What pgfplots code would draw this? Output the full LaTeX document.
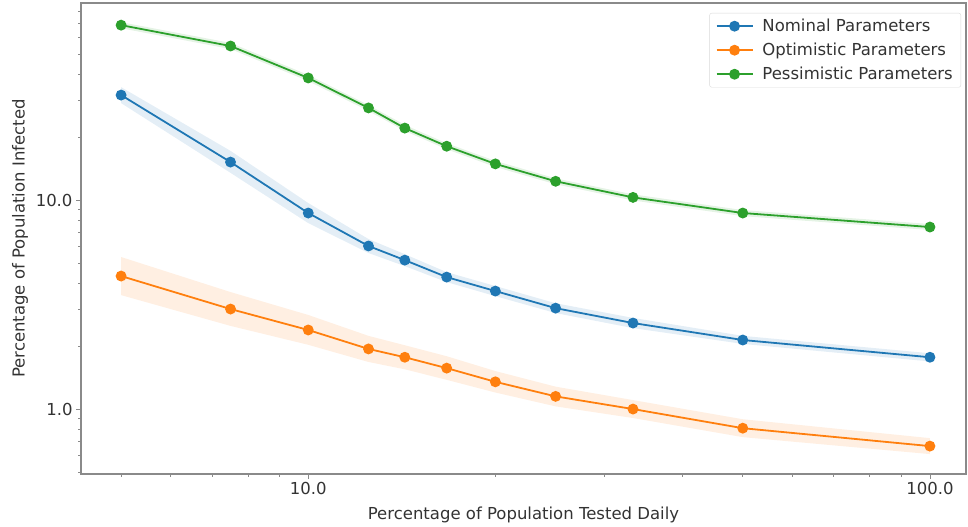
\documentclass[border=0pt]{standalone}
\usepackage{pgfplots}
\pgfplotsset{compat=1.18}
\usepgfplotslibrary{fillbetween}
\usepackage{fontspec}
\setmainfont{DejaVu Sans}

\definecolor{cblue}{HTML}{1F77B4}
\definecolor{corange}{HTML}{FF7F0E}
\definecolor{cgreen}{HTML}{2CA02C}
\definecolor{spine}{HTML}{8A8A8A}
\definecolor{txt}{HTML}{333333}

\begin{document}
\begin{tikzpicture}
\newcommand{\fs}{\fontsize{16.5bp}{19.8bp}\selectfont}
\begin{axis}[
  scale only axis,
  width=885bp, height=471bp,
  xmode=log, ymode=log,
  xmin=4.31, xmax=114.3,
  ymin=0.489, ymax=87.7,
  xtick={10,100}, xticklabels={10.0,100.0},
  ytick={1,10}, yticklabels={1.0,10.0},
  minor xtick={5,6,7,8,9,20,30,40,50,60,70,80,90},
  minor ytick={0.5,0.6,0.7,0.8,0.9,2,3,4,5,6,7,8,9,20,30,40,50,60,70,80},
  xtick pos=bottom, ytick pos=left,
  tick align=outside,
  major tick length=5bp, minor tick length=3bp,
  every tick/.style={spine, line width=0.8bp},
  axis line style={spine, line width=1.2bp},
  tick label style={font=\fs, text=txt},
  label style={font=\fs, text=txt},
  xlabel={Percentage of Population Tested Daily},
  ylabel={Percentage of Population Infected},
  xlabel style={at={(axis description cs:0.5,-0.087)}, anchor=center},
  ylabel style={at={(axis description cs:-0.0689,0.5)}, anchor=center},
  legend style={at={(axis cs:114.3,87.7)}, anchor=north east,
    xshift=-5bp, yshift=-10bp,
    draw=black!15, rounded corners=2bp, fill=white,
    font=\fs, text=txt, row sep=6bp, inner xsep=6bp, inner ysep=4bp,
    /tikz/every odd column/.style={column sep=7bp},
    cells={anchor=west}},
  legend cell align=left,
  legend image code/.code={%
    \draw[#1, mark repeat=2, mark phase=2]
      plot coordinates {(0bp,0bp) (18bp,0bp) (36bp,0bp)};},
  every axis plot/.append style={line width=1.8bp},
]
% uncertainty bands
\addplot[draw=none, forget plot, name path=bl] coordinates {(5,29.1)(7.5,13.5)(10,7.76)(12.5,5.58)(14.3,4.83)(16.7,4.05)(20,3.47)(25,2.88)(33.3,2.44)(50,2.05)(100,1.69)};
\addplot[draw=none, forget plot, name path=bh] coordinates {(5,34.7)(7.5,17.2)(10,9.68)(12.5,6.51)(14.3,5.51)(16.7,4.52)(20,3.88)(25,3.21)(33.3,2.73)(50,2.24)(100,1.85)};
\addplot[cblue, fill opacity=0.12, forget plot] fill between[of=bl and bh];

\addplot[draw=none, forget plot, name path=ol] coordinates {(5,3.51)(7.5,2.50)(10,2.03)(12.5,1.68)(14.3,1.55)(16.7,1.38)(20,1.20)(25,1.03)(33.3,0.906)(50,0.734)(100,0.609)};
\addplot[draw=none, forget plot, name path=oh] coordinates {(5,5.34)(7.5,3.63)(10,2.82)(12.5,2.24)(14.3,2.02)(16.7,1.79)(20,1.52)(25,1.28)(33.3,1.104)(50,0.894)(100,0.726)};
\addplot[corange, fill opacity=0.12, forget plot] fill between[of=ol and oh];

\addplot[draw=none, forget plot, name path=gl] coordinates {(5,66.4)(7.5,52.8)(10,37.1)(12.5,26.7)(14.3,21.4)(16.7,17.5)(20,14.4)(25,11.9)(33.3,9.96)(50,8.38)(100,7.19)};
\addplot[draw=none, forget plot, name path=gh] coordinates {(5,71.0)(7.5,56.5)(10,39.7)(12.5,28.5)(14.3,22.9)(16.7,18.7)(20,15.4)(25,12.7)(33.3,10.65)(50,8.96)(100,7.68)};
\addplot[cgreen, fill opacity=0.12, forget plot] fill between[of=gl and gh];

% mean curves
\addplot[cblue, mark=*, mark size=4.5bp] coordinates {(5,31.8)(7.5,15.2)(10,8.67)(12.5,6.03)(14.3,5.16)(16.7,4.28)(20,3.67)(25,3.04)(33.3,2.58)(50,2.14)(100,1.77)};
\addlegendentry{Nominal Parameters}
\addplot[corange, mark=*, mark size=4.5bp] coordinates {(5,4.33)(7.5,3.01)(10,2.39)(12.5,1.94)(14.3,1.77)(16.7,1.57)(20,1.35)(25,1.15)(33.3,1.00)(50,0.81)(100,0.665)};
\addlegendentry{Optimistic Parameters}
\addplot[cgreen, mark=*, mark size=4.5bp] coordinates {(5,68.7)(7.5,54.6)(10,38.4)(12.5,27.6)(14.3,22.1)(16.7,18.1)(20,14.9)(25,12.3)(33.3,10.3)(50,8.67)(100,7.43)};
\addlegendentry{Pessimistic Parameters}
\end{axis}
\pgfresetboundingbox
\path[use as bounding box] ([xshift=-81bp,yshift=-53bp]current axis.south west) rectangle ([xshift=2bp,yshift=3bp]current axis.north east);
\end{tikzpicture}
\end{document}
